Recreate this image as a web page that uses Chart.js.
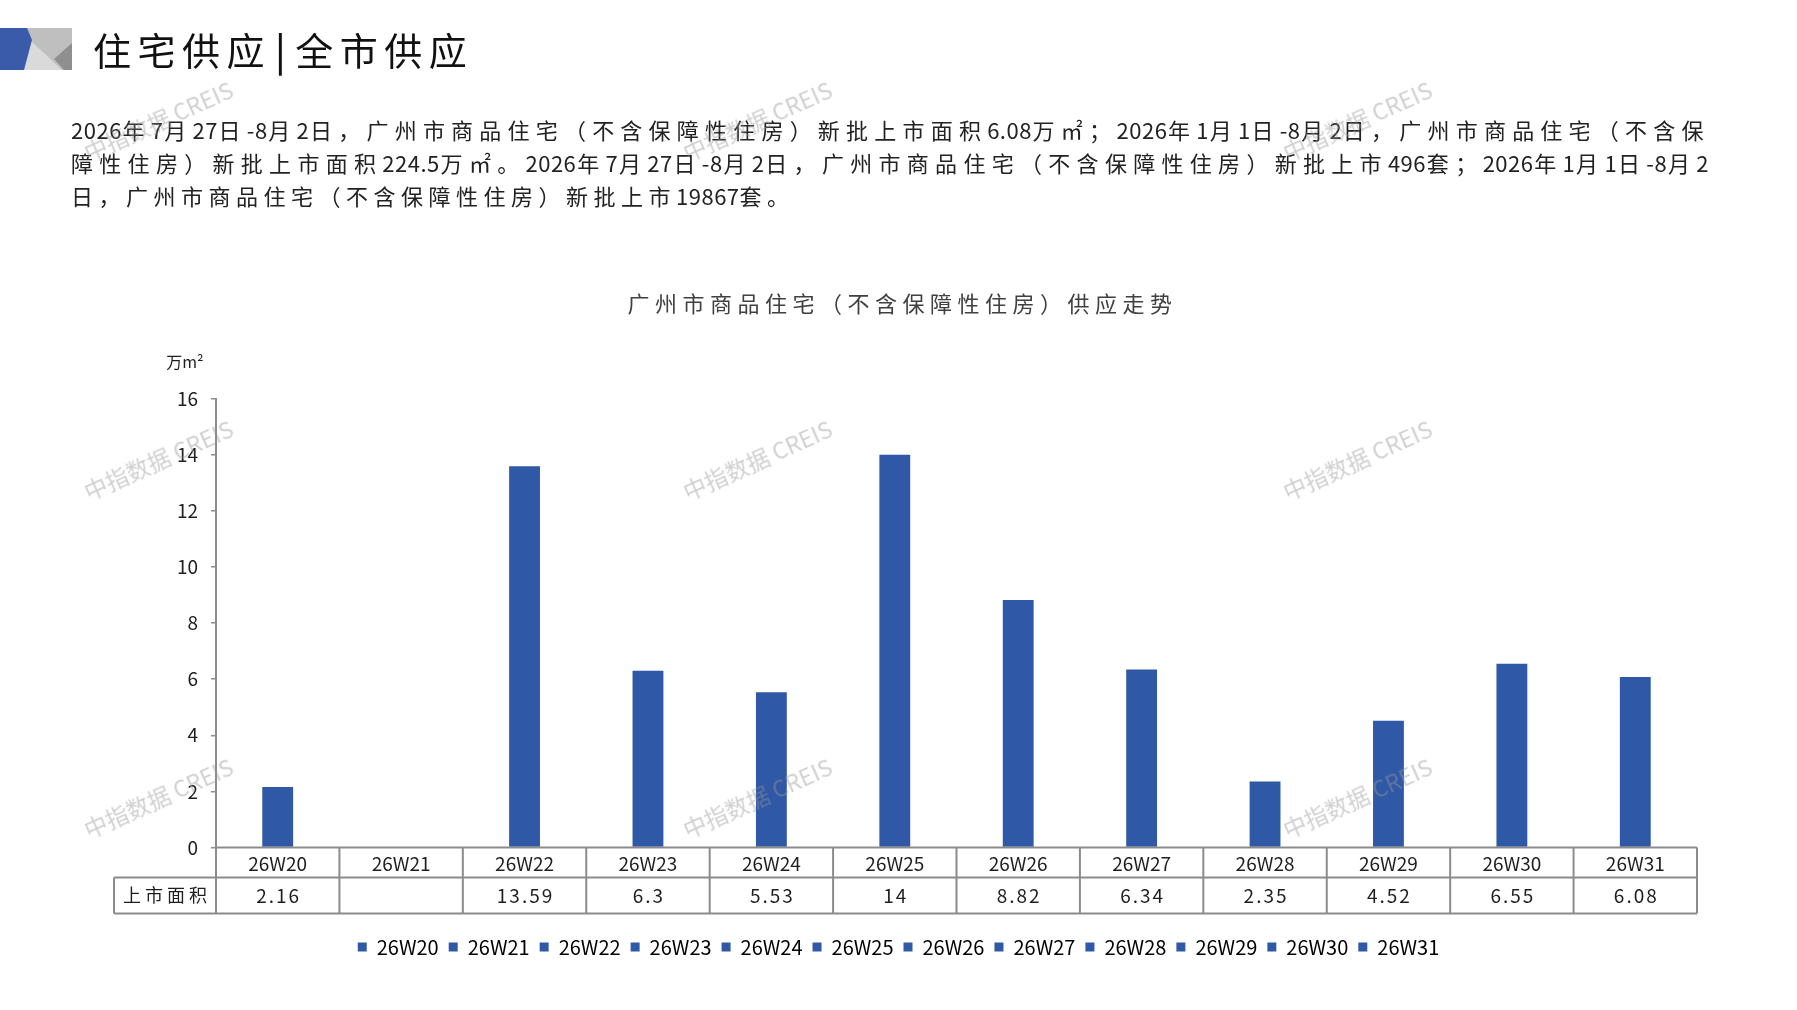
<!DOCTYPE html>
<html lang="zh-CN">
<head>
<meta charset="utf-8">
<title>住宅供应|全市供应</title>
<script src="https://cdn.jsdelivr.net/npm/chart.js@4.4.1/dist/chart.umd.min.js"></script>
<style>
    html, body { margin: 0; padding: 0; background: #fff; }
    body {
        width: 1797px; height: 1010px; position: relative; overflow: hidden;
        font-family: "Noto Sans CJK SC", "Noto Sans", sans-serif;
    }
    #supplyChart { position: absolute; left: 0; top: 0; }
    .logo { position: absolute; left: 0; top: 28px; }
    .head {
        position: absolute; left: 93px; top: 21px;
        font-size: 38px; line-height: 56px; letter-spacing: 6.5px; color: #111;
        white-space: nowrap;
    }
    .head .bar { font-weight: 500; margin: 0 3px 0 4px; }
    .para {
        position: absolute; left: 71px; top: 113px; width: 1638px;
        font-size: 22px; line-height: 33px; letter-spacing: 5.5px; color: #222;
    }
    .para div { white-space: nowrap; }
    .para .j { text-align: justify; text-align-last: justify; }
    .para .n { letter-spacing: 0.5px; }
    .wm {
        position: absolute; font-size: 23px; color: rgba(150, 150, 150, 0.45);
        white-space: nowrap; pointer-events: none;
        transform: translate(-50%, -50%) rotate(-24deg);
    }
</style>
</head>
<body>
<canvas id="supplyChart" width="1797" height="1010"></canvas>

<svg class="logo" width="74" height="44" viewBox="0 0 74 44">
    <rect x="20" y="0" width="52" height="42" fill="#bfbfbf"/>
    <polygon points="30,12 62,42 22,42" fill="#dadada"/>
    <polygon points="54,31 72,15 72,42 64,42" fill="#8f8f8f"/>
    <polygon points="0,0 27,0 32,12 24,42 0,42" fill="#3a5ba9"/>
</svg>
<div class="head">住宅供应<span class="bar">|</span>全市供应</div>

<div class="para" id="para">
    <div class="j">2026年7月27日-8月2日，广州市商品住宅（不含保障性住房）新批上市面积6.08万㎡；2026年1月1日-8月2日，广州市商品住宅（不含保</div>
    <div class="j">障性住房）新批上市面积224.5万㎡。2026年7月27日-8月2日，广州市商品住宅（不含保障性住房）新批上市496套；2026年1月1日-8月2</div>
    <div>日，广州市商品住宅（不含保障性住房）新批上市19867套。</div>
</div>

<div id="marks"></div>

<script>
// Weekly new residential supply, Guangzhou (万m²)
const weeks = ['26W20', '26W21', '26W22', '26W23', '26W24', '26W25',
               '26W26', '26W27', '26W28', '26W29', '26W30', '26W31'];
const supplyArea = [2.16, null, 13.59, 6.3, 5.53, 14, 8.82, 6.34, 2.35, 4.52, 6.55, 6.08];
const yTicks = [0, 2, 4, 6, 8, 10, 12, 14, 16];

const rowLabel = '上市面积';
const chartTitle = '广州市商品住宅（不含保障性住房）供应走势';
const unitLabel = '万m²';
const watermark = '中指数据 CREIS';

const BAR_BLUE = '#2f58a6';
const LINE_GREY = '#8c8c8c';
const FONT = '"Noto Sans CJK SC", "Noto Sans", sans-serif';

// digits in the paragraph are set tighter than the CJK text
document.querySelectorAll('#para div').forEach(d => {
    d.innerHTML = d.textContent.replace(/([0-9.\-]+)/g, '<span class="n">$1</span>');
});

// watermarks, 3 x 3 grid
[158, 757, 1357].forEach(x => {
    [120, 459, 797].forEach(y => {
        const el = document.createElement('div');
        el.className = 'wm';
        el.textContent = watermark;
        el.style.left = x + 'px';
        el.style.top = y + 'px';
        document.getElementById('marks').appendChild(el);
    });
});

// title, unit and the Excel-style data table under the plot
const dataTable = {
    id: 'dataTable',
    afterDraw(chart) {
        const { ctx, chartArea: a, scales: { x } } = chart;
        const step = x.getPixelForValue(1) - x.getPixelForValue(0);
        const r1 = a.bottom + 30;
        const r2 = r1 + 36;
        const labelLeft = 114;

        ctx.save();
        ctx.strokeStyle = LINE_GREY;
        ctx.lineWidth = 2;
        ctx.beginPath();
        ctx.moveTo(a.left, a.bottom); ctx.lineTo(a.right, a.bottom);
        ctx.moveTo(labelLeft, r1); ctx.lineTo(a.right, r1);
        ctx.moveTo(labelLeft, r2); ctx.lineTo(a.right, r2);
        ctx.moveTo(labelLeft, r1); ctx.lineTo(labelLeft, r2);
        weeks.forEach((w, i) => {
            const edge = x.getPixelForValue(i) - step / 2;
            ctx.moveTo(edge, a.bottom); ctx.lineTo(edge, r2);
        });
        ctx.moveTo(a.right, a.bottom); ctx.lineTo(a.right, r2);
        ctx.stroke();

        ctx.fillStyle = '#1e1e1e';
        ctx.textAlign = 'center';
        ctx.textBaseline = 'middle';
        ctx.font = '19px ' + FONT;
        weeks.forEach((w, i) => {
            const cx = x.getPixelForValue(i);
            ctx.fillText(w, cx, (a.bottom + r1) / 2 + 1);
            if (supplyArea[i] !== null) {
                ctx.letterSpacing = '2px';
                ctx.fillText(String(supplyArea[i]), cx + 1, (r1 + r2) / 2);
                ctx.letterSpacing = '0px';
            }
        });
        ctx.font = '18px ' + FONT;
        ctx.letterSpacing = '4px';
        ctx.fillText(rowLabel, (labelLeft + a.left) / 2 + 2, (r1 + r2) / 2);

        // chart title
        ctx.fillStyle = '#404040';
        ctx.font = '22px ' + FONT;
        ctx.letterSpacing = '5.5px';
        ctx.fillText(chartTitle, chart.width / 2 + 4, a.top - 95);
        ctx.letterSpacing = '0px';

        // unit above the value axis
        ctx.fillStyle = '#1e1e1e';
        ctx.font = '16px ' + FONT;
        ctx.fillText(unitLabel, a.left - 31, a.top - 37);
        ctx.restore();
    }
};

new Chart(document.getElementById('supplyChart'), {
    type: 'bar',
    data: {
        labels: weeks,
        datasets: [{
            label: rowLabel,
            data: supplyArea,
            backgroundColor: BAR_BLUE,
            borderWidth: 0,
            categoryPercentage: 1,
            barPercentage: 0.25
        }]
    },
    options: {
        responsive: false,
        animation: false,
        layout: { padding: { left: 0, right: 0, top: 398.5, bottom: 43 } },
        scales: {
            x: {
                ticks: { display: false },
                grid: { display: false },
                border: { display: false },
                afterFit: s => { s.height = 79.5; }
            },
            y: {
                min: yTicks[0],
                max: yTicks[yTicks.length - 1],
                afterBuildTicks: s => { s.ticks = yTicks.map(v => ({ value: v })); },
                afterFit: s => { s.width = 216; },
                ticks: {
                    color: '#1e1e1e',
                    padding: 13,
                    font: { size: 19, family: FONT }
                },
                grid: {
                    drawOnChartArea: false,
                    drawTicks: true,
                    tickLength: 5,
                    color: LINE_GREY,
                    lineWidth: 1.5
                },
                border: { display: true, color: LINE_GREY, width: 2 }
            },
            // empty right-hand axis keeps the plot narrower while the legend stays page-centred
            yRight: {
                position: 'right',
                ticks: { display: false },
                grid: { display: false },
                border: { display: false },
                afterFit: s => { s.width = 100; }
            }
        },
        plugins: {
            title: { display: false },
            legend: {
                position: 'bottom',
                onClick: null,
                labels: {
                    boxWidth: 9,
                    boxHeight: 9,
                    padding: 10,
                    color: '#1e1e1e',
                    font: { size: 20, family: FONT },
                    generateLabels: () => weeks.map((w, i) => ({
                        text: w,
                        fillStyle: BAR_BLUE,
                        strokeStyle: BAR_BLUE,
                        lineWidth: 0,
                        hidden: false,
                        index: i
                    }))
                }
            },
            tooltip: { enabled: false }
        }
    },
    plugins: [dataTable]
});
</script>
</body>
</html>
